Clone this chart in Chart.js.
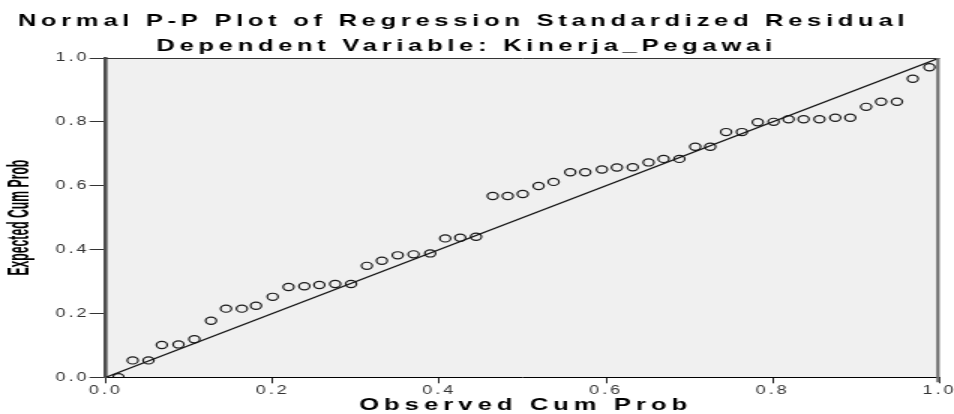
<!DOCTYPE html>
<html>
<head>
<meta charset="utf-8">
<title>Normal P-P Plot</title>
<script src="https://cdn.jsdelivr.net/npm/chart.js@4.4.0/dist/chart.umd.min.js"></script>
<style>
  html, body { margin: 0; padding: 0; background: #fff; }
  #ppPlot { display: block; }
</style>
</head>
<body>
<!-- the reference picture is stretched sideways, so the canvas is drawn at 636 wide and shown at 954 -->
<canvas id="ppPlot" width="636" height="414" style="width:954px;height:414px"></canvas>
<script>
'use strict';

// observed vs expected cumulative probability
const observedCumProb = [0.015, 0.032, 0.051, 0.067, 0.087, 0.106, 0.126, 0.144, 0.163, 0.180,
  0.200, 0.219, 0.238, 0.256, 0.275, 0.294, 0.313, 0.331, 0.350, 0.369,
  0.389, 0.407, 0.425, 0.444, 0.464, 0.482, 0.500, 0.519, 0.537, 0.557,
  0.575, 0.595, 0.613, 0.632, 0.651, 0.669, 0.688, 0.707, 0.725, 0.744,
  0.763, 0.782, 0.801, 0.819, 0.837, 0.856, 0.875, 0.893, 0.912, 0.930,
  0.949, 0.968, 0.988];
const expectedCumProb = [0.000, 0.053, 0.053, 0.101, 0.103, 0.119, 0.177, 0.215, 0.215, 0.224,
  0.252, 0.283, 0.285, 0.289, 0.292, 0.292, 0.349, 0.365, 0.382, 0.385,
  0.388, 0.435, 0.437, 0.440, 0.568, 0.568, 0.574, 0.599, 0.612, 0.642,
  0.642, 0.651, 0.657, 0.658, 0.673, 0.684, 0.684, 0.722, 0.722, 0.768,
  0.768, 0.799, 0.800, 0.808, 0.808, 0.808, 0.813, 0.813, 0.847, 0.863,
  0.863, 0.935, 0.971];

// the 45 degree reference line
const refLineX = [0, 1];
const refLineY = [0, 1];

const tickValues = [0, 0.2, 0.4, 0.6, 0.8, 1.0];
const tickLabels = ['0.0', '0.2', '0.4', '0.6', '0.8', '1.0'];

const chartTitle = 'Normal P-P Plot of Regression Standardized Residual';
const chartSubtitle = 'Dependent Variable: Kinerja_Pegawai';
const xAxisTitle = 'Observed Cum Prob';
const yAxisTitle = 'Expected Cum Prob';

const FONT = '"Liberation Sans", Arial, sans-serif';

function tickText(value) {
  const i = tickValues.findIndex(t => Math.abs(t - value) < 1e-6);
  return i >= 0 ? tickLabels[i] : '';
}

function toPoints(xs, ys) {
  return xs.map((x, i) => ({ x: x, y: ys[i] }));
}

const spssLook = {
  id: 'spssLook',
  beforeDraw(chart) {
    const ctx = chart.ctx;
    const a = chart.chartArea;
    ctx.letterSpacing = '0px';
    ctx.save();
    ctx.fillStyle = '#f0f0f0';
    ctx.fillRect(a.left, a.top, a.right - a.left, a.bottom - a.top);
    ctx.restore();
  },
  afterDatasetsDraw(chart) {
    const ctx = chart.ctx;
    const a = chart.chartArea;
    ctx.save();
    // top edge of the frame
    ctx.strokeStyle = '#333';
    ctx.lineWidth = 1;
    ctx.beginPath();
    ctx.moveTo(a.left, a.top + 0.5);
    ctx.lineTo(a.right, a.top + 0.5);
    ctx.stroke();
    // thick grey right edge
    ctx.strokeStyle = '#707070';
    ctx.lineWidth = 2.2;
    ctx.beginPath();
    ctx.moveTo(a.right - 1, a.top);
    ctx.lineTo(a.right - 1, a.bottom + 5);
    ctx.stroke();
    ctx.restore();
    // tick labels are drawn after this hook (ticks z: 1), spaced out like the picture
    ctx.letterSpacing = '2px';
  },
  afterDraw(chart) {
    const ctx = chart.ctx;
    const a = chart.chartArea;
    ctx.save();
    ctx.fillStyle = '#000';
    ctx.textAlign = 'center';
    ctx.textBaseline = 'alphabetic';
    ctx.font = 'bold 17px ' + FONT;
    ctx.letterSpacing = '3.15px';
    ctx.fillText(chartTitle, 309, 26);
    ctx.fillText(chartSubtitle, 311, 51);

    ctx.letterSpacing = '3.4px';
    ctx.fillText(xAxisTitle, (a.left + a.right) / 2 + 2, 410);

    ctx.letterSpacing = '0px';
    ctx.translate(13.5, (a.top + a.bottom) / 2);
    ctx.rotate(-Math.PI / 2);
    ctx.scale(0.61, 1);
    ctx.font = 'bold 20px ' + FONT;
    ctx.textBaseline = 'middle';
    ctx.fillText(yAxisTitle, 0, 0);
    ctx.restore();
    ctx.letterSpacing = '0px';
  }
};

const ctx = document.getElementById('ppPlot').getContext('2d');
const chart = new Chart(ctx, {
  data: {
    datasets: [{
      type: 'line',
      label: 'reference',
      data: toPoints(refLineX, refLineY),
      borderColor: '#111',
      borderWidth: 1.3,
      pointRadius: 0,
      fill: false,
      clip: 0
    }, {
      type: 'scatter',
      label: 'residuals',
      data: toPoints(observedCumProb, expectedCumProb),
      pointStyle: 'circle',
      pointRadius: 3.6,
      pointBorderWidth: 1.2,
      borderColor: '#1a1a1a',
      backgroundColor: 'rgba(0,0,0,0)',
      clip: 0
    }]
  },
  options: {
    responsive: false,
    animation: false,
    devicePixelRatio: 1,
    layout: { padding: { top: 58, right: 9.7, bottom: 0, left: 0 } },
    plugins: {
      legend: { display: false },
      title: { display: false },
      tooltip: { enabled: false }
    },
    scales: {
      x: {
        type: 'linear',
        position: 'bottom',
        min: 0,
        max: 1,
        afterBuildTicks: s => { s.ticks = tickValues.map(v => ({ value: v })); },
        afterFit: s => { s.height = 36.7; s.paddingLeft = 0; s.paddingRight = 0; },
        ticks: {
          z: 1,
          padding: 0,
          color: '#333',
          maxRotation: 0,
          autoSkip: false,
          font: { family: FONT, size: 12 },
          callback: v => tickText(v)
        },
        grid: { drawOnChartArea: false, tickLength: 6, color: '#222' },
        border: { color: '#000', width: 1 }
      },
      y: {
        type: 'linear',
        position: 'left',
        min: 0,
        max: 1,
        afterBuildTicks: s => { s.ticks = tickValues.map(v => ({ value: v })); },
        afterFit: s => { s.width = 70.67; s.paddingTop = 0; s.paddingBottom = 0; },
        ticks: {
          z: 1,
          padding: 0,
          color: '#333',
          autoSkip: false,
          font: { family: FONT, size: 12 },
          callback: v => tickText(v)
        },
        grid: { drawOnChartArea: false, tickLength: 11, color: '#333' },
        border: { color: '#4d4d4d', width: 2.6 }
      }
    }
  },
  plugins: [spssLook]
});
</script>
</body>
</html>
